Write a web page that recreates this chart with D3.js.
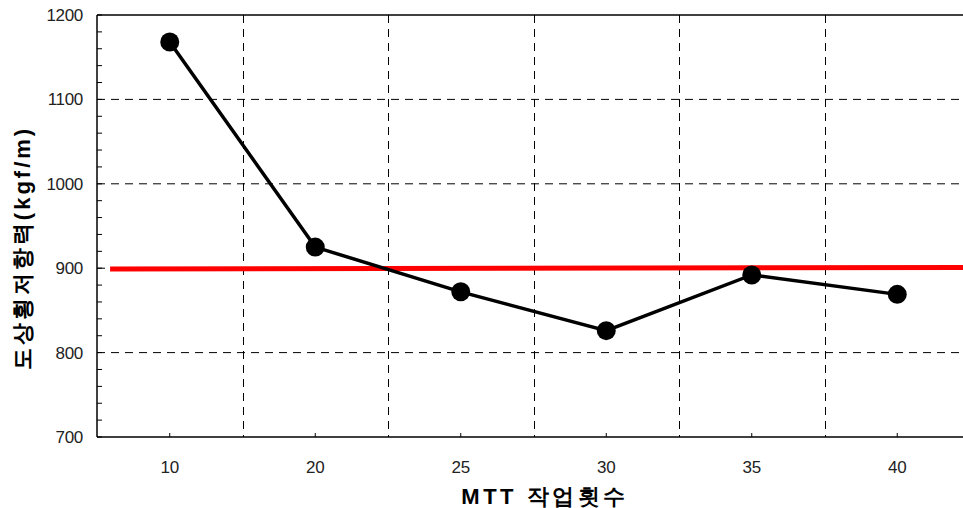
<!DOCTYPE html>
<html><head><meta charset="utf-8">
<script src="https://cdn.jsdelivr.net/npm/d3@7/dist/d3.min.js"></script>
<style>body{margin:0;background:#fff}svg{display:block}</style>
</head><body>
<svg id="c" width="963" height="508"></svg>
<script>
const categories = ["10","20","25","30","35","40"];
const values = [1168, 925, 872, 826, 892, 869];
const refLine = [{pos:-0.41, v:899}, {pos:5.6, v:901}];
const yTicks = [700, 800, 900, 1000, 1100, 1200];
const yMinor = d3.range(700, 1201, 20);

const svg = d3.select("#c");
const L = 97, T = 15, B = 437, R = 970;
const x = d3.scaleBand().domain(categories).range([L, R]).padding(0);
const xi = d3.scaleLinear().domain([0, 1]).range([x(categories[0]) + x.bandwidth()/2, x(categories[1]) + x.bandwidth()/2]);
const y = d3.scaleLinear().domain([700, 1200]).range([B, T]);
const font = "'Liberation Sans', Arial, sans-serif";

// grid
svg.append("g").selectAll("line").data(yTicks.filter(d => d > 700 && d < 1200)).join("line")
  .attr("x1", L).attr("x2", 963).attr("y1", d => y(d)).attr("y2", d => y(d))
  .attr("stroke", "#000").attr("stroke-width", 1).attr("stroke-dasharray", "8,6");
svg.append("g").selectAll("line").data(categories.slice(1)).join("line")
  .attr("x1", d => Math.round(x(d)) + 0.5).attr("x2", d => Math.round(x(d)) + 0.5)
  .attr("y1", T).attr("y2", B)
  .attr("stroke", "#000").attr("stroke-width", 1).attr("stroke-dasharray", "8,6");

// frame
svg.append("line").attr("x1", L).attr("x2", 963).attr("y1", T).attr("y2", T).attr("stroke", "#000").attr("stroke-width", 1.5);
svg.append("line").attr("x1", L).attr("x2", 963).attr("y1", B).attr("y2", B).attr("stroke", "#000").attr("stroke-width", 1.5);
svg.append("line").attr("x1", L).attr("x2", L).attr("y1", T).attr("y2", B).attr("stroke", "#000").attr("stroke-width", 1.5);

// minor y ticks inside
svg.append("g").selectAll("line").data(yMinor).join("line")
  .attr("x1", L).attr("x2", L + 5).attr("y1", d => y(d)).attr("y2", d => y(d))
  .attr("stroke", "#000").attr("stroke-width", 1);
// x ticks inside
svg.append("g").selectAll("line").data(categories).join("line")
  .attr("x1", d => x(d) + x.bandwidth()/2).attr("x2", d => x(d) + x.bandwidth()/2)
  .attr("y1", B).attr("y2", B - 4).attr("stroke", "#000").attr("stroke-width", 1);

// labels
svg.append("g").selectAll("text").data(yTicks).join("text")
  .attr("x", 83).attr("y", d => y(d)).attr("dy", "0.35em").attr("text-anchor", "end")
  .attr("font-family", font).attr("font-size", 17).attr("letter-spacing", -0.3).attr("fill", "#222").text(d => d);
svg.append("g").selectAll("text").data(categories).join("text")
  .attr("x", d => x(d) + x.bandwidth()/2).attr("y", 467).attr("dy", "0.35em").attr("text-anchor", "middle")
  .attr("font-family", font).attr("font-size", 17).attr("letter-spacing", -0.3).attr("fill", "#222").text(d => d);

// axis titles
svg.append("text").attr("x", 545).attr("y", 496).attr("dy", "0.35em").attr("text-anchor", "middle")
  .attr("font-family", font).attr("font-weight", "bold").attr("font-size", 22).attr("letter-spacing", 3.5)
  .text("MTT 작업횟수");
svg.append("text").attr("transform", "translate(22,248) rotate(-90)").attr("dy", "0.35em").attr("text-anchor", "middle")
  .attr("font-family", font).attr("font-weight", "bold").attr("font-size", 22).attr("letter-spacing", 3)
  .text("도상횡저항력(kgf/m)");

// red reference line
svg.append("clipPath").attr("id", "pc").append("rect").attr("x", 0).attr("y", 0).attr("width", 963).attr("height", 508);
svg.append("path").datum(refLine).attr("clip-path", "url(#pc)")
  .attr("d", d3.line().x(d => xi(d.pos)).y(d => y(d.v)))
  .attr("fill", "none").attr("stroke", "#ff0000").attr("stroke-width", 5);

// data line
const pts = categories.map((c, i) => ({c, v: values[i]}));
svg.append("path").datum(pts)
  .attr("d", d3.line().x(d => x(d.c) + x.bandwidth()/2).y(d => y(d.v)))
  .attr("fill", "none").attr("stroke", "#000").attr("stroke-width", 3.5);
svg.append("g").selectAll("circle").data(pts).join("circle")
  .attr("cx", d => x(d.c) + x.bandwidth()/2).attr("cy", d => y(d.v)).attr("r", 9.5).attr("fill", "#000");
</script>
</body></html>
